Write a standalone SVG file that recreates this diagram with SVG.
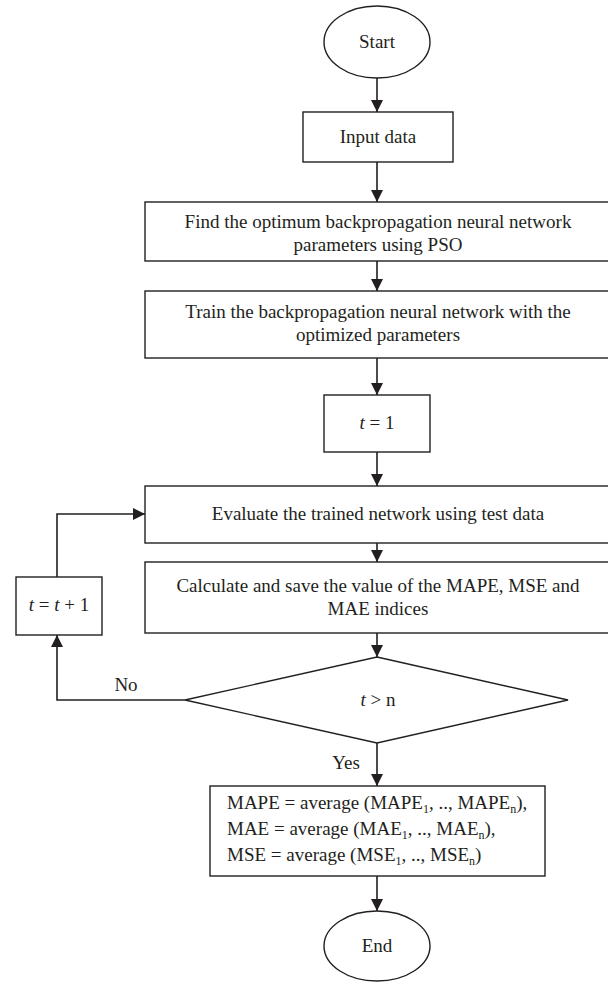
<svg xmlns="http://www.w3.org/2000/svg" width="608" height="983" viewBox="0 0 608 983">
<style>
.s{fill:#fff;stroke:#231f20;stroke-width:1.4}
.t{font-family:"Liberation Serif","Times New Roman",serif;font-size:19px;fill:#231f20;text-anchor:middle}
.l{text-anchor:start}
.c{fill:none;stroke:#231f20;stroke-width:1.6}
.sub{font-size:12px}
</style>
<defs>
<marker id="ah" markerWidth="12" markerHeight="12" viewBox="0 0 12 12" refX="12" refY="6" orient="auto" markerUnits="userSpaceOnUse">
<path d="M0,0 L12,6 L0,12 Z" fill="#231f20"/>
</marker>
</defs>
<rect width="608" height="983" fill="#fff"/>
<g id="connectors">
<line class="c" x1="377" y1="78" x2="377" y2="112" marker-end="url(#ah)"/>
<line class="c" x1="377" y1="162" x2="377" y2="202" marker-end="url(#ah)"/>
<line class="c" x1="377" y1="261" x2="377" y2="291" marker-end="url(#ah)"/>
<line class="c" x1="377" y1="358" x2="377" y2="395" marker-end="url(#ah)"/>
<line class="c" x1="377" y1="452" x2="377" y2="486" marker-end="url(#ah)"/>
<line class="c" x1="377" y1="543" x2="377" y2="562" marker-end="url(#ah)"/>
<line class="c" x1="377" y1="633" x2="377" y2="657" marker-end="url(#ah)"/>
<line class="c" x1="377" y1="743" x2="377" y2="786" marker-end="url(#ah)"/>
<line class="c" x1="377" y1="876" x2="377" y2="911" marker-end="url(#ah)"/>
<polyline class="c" points="185,700 57,700 57,635" marker-end="url(#ah)"/>
<polyline class="c" points="57,577 57,514 145,514" marker-end="url(#ah)"/>
<text class="t" x="126" y="691">No</text>
<text class="t" x="346" y="769">Yes</text>
</g>
<g id="start">
<ellipse class="s" cx="377" cy="42" rx="53" ry="36"/>
<text class="t" x="377" y="48">Start</text>
</g>
<g id="input">
<rect class="s" x="303" y="112" width="150" height="50"/>
<text class="t" x="378" y="143">Input data</text>
</g>
<g id="find">
<rect class="s" x="145" y="202" width="466" height="59"/>
<text class="t" x="378" y="228">Find the optimum backpropagation neural network</text>
<text class="t" x="378" y="251">parameters using PSO</text>
</g>
<g id="train">
<rect class="s" x="145" y="291" width="466" height="67"/>
<text class="t" x="378" y="318">Train the backpropagation neural network with the</text>
<text class="t" x="378" y="341">optimized parameters</text>
</g>
<g id="t1">
<rect class="s" x="324" y="395" width="106" height="57"/>
<text class="t" x="377" y="429"><tspan font-style="italic">t</tspan> = 1</text>
</g>
<g id="evaluate">
<rect class="s" x="145" y="486" width="466" height="57"/>
<text class="t" x="378" y="520">Evaluate the trained network using test data</text>
</g>
<g id="calculate">
<rect class="s" x="145" y="562" width="466" height="71"/>
<text class="t" x="378" y="592">Calculate and save the value of the MAPE, MSE and</text>
<text class="t" x="378" y="615">MAE indices</text>
</g>
<g id="increment">
<rect class="s" x="16" y="577" width="86" height="58"/>
<text class="t" x="59" y="611"><tspan font-style="italic">t</tspan> = <tspan font-style="italic">t</tspan> + 1</text>
</g>
<g id="decision">
<polygon class="s" points="377,657 568,700 377,743 185,700"/>
<text class="t" x="378" y="706"><tspan font-style="italic">t</tspan> &gt; n</text>
</g>
<g id="average">
<rect class="s" x="210" y="786" width="335" height="90"/>
<text class="t l" x="227" y="809">MAPE = average (MAPE<tspan class="sub" dy="4">1</tspan><tspan dy="-4">, .., MAPE</tspan><tspan class="sub" dy="4">n</tspan><tspan dy="-4">),</tspan></text>
<text class="t l" x="227" y="835">MAE = average (MAE<tspan class="sub" dy="4">1</tspan><tspan dy="-4">, .., MAE</tspan><tspan class="sub" dy="4">n</tspan><tspan dy="-4">),</tspan></text>
<text class="t l" x="227" y="861">MSE = average (MSE<tspan class="sub" dy="4">1</tspan><tspan dy="-4">, .., MSE</tspan><tspan class="sub" dy="4">n</tspan><tspan dy="-4">)</tspan></text>
</g>
<g id="end">
<ellipse class="s" cx="377" cy="946" rx="53" ry="35"/>
<text class="t" x="377" y="952">End</text>
</g>
</svg>
